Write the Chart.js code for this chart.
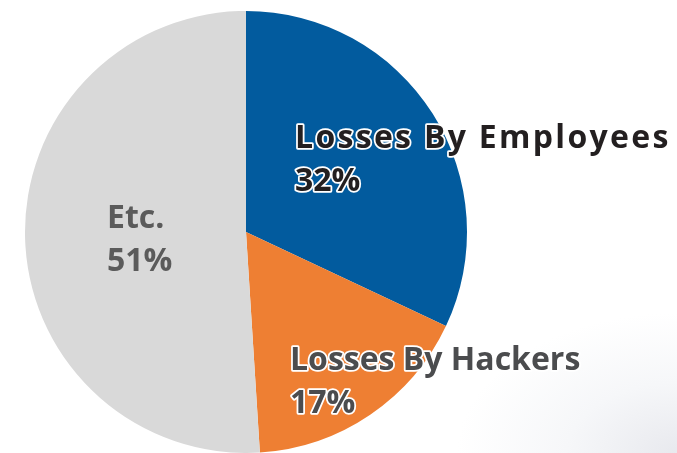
<!DOCTYPE html>
<html>
<head>
<meta charset="utf-8">
<script src="https://cdn.jsdelivr.net/npm/chart.js@4.4.0/dist/chart.umd.min.js"></script>
<style>
  html, body { margin: 0; padding: 0; }
  body {
    width: 677px; height: 453px; overflow: hidden;
    background: radial-gradient(ellipse 220px 140px at 677px 453px, #e8e9ee 0%, #f6f7f9 50%, #ffffff 100%);
  }
  #wrap { position: relative; width: 677px; height: 453px; }
</style>
</head>
<body>
<div id="wrap"><canvas id="chart" width="677" height="453"></canvas></div>
<script>
// 数据
const categories = ['Losses By Employees', 'Losses By Hackers', 'Etc.'];
const shares = [32, 17, 51];
const sliceColors = ['#025b9e', '#ee7f33', '#d9d9d9'];

// 标签样式（相对圆心的偏移）
const labelStyles = [
  { dx: 49, dy: -84, fill: '#231f20', stroke: '#ffffff', spacing: '2.3px' },
  { dx: 44, dy: 138, fill: '#4b4c4e', stroke: '#ffffff', spacing: '0px' },
  { dx: -139, dy: -4, fill: '#5b5b5b', stroke: null, spacing: '0px' }
];

const sliceLabels = {
  id: 'sliceLabels',
  afterDatasetsDraw(chart) {
    const ctx = chart.ctx;
    const arc = chart.getDatasetMeta(0).data[0];
    const cx = arc.x, cy = arc.y;
    ctx.save();
    ctx.font = 'bold 32px "Open Sans", "DejaVu Sans", sans-serif';
    ctx.textBaseline = 'alphabetic';
    ctx.textAlign = 'left';
    ctx.lineJoin = 'round';
    categories.forEach((name, i) => {
      const s = labelStyles[i];
      const lines = [name, shares[i] + '%'];
      lines.forEach((t, j) => {
        const x = cx + s.dx, y = cy + s.dy + j * 43;
        ctx.letterSpacing = j === 0 ? s.spacing : '0px';
        if (s.stroke) {
          ctx.strokeStyle = s.stroke;
          ctx.lineWidth = 3.5;
          ctx.strokeText(t, x, y);
        }
        ctx.fillStyle = s.fill;
        ctx.fillText(t, x, y);
      });
    });
    ctx.restore();
  }
};

new Chart(document.getElementById('chart'), {
  type: 'pie',
  data: {
    labels: categories,
    datasets: [{
      data: shares,
      backgroundColor: sliceColors,
      borderWidth: 0
    }]
  },
  options: {
    responsive: false,
    animation: false,
    layout: { padding: { left: 25, right: 210, top: 11, bottom: 0 } },
    plugins: {
      legend: { display: false },
      tooltip: { enabled: false }
    }
  },
  plugins: [sliceLabels]
});
</script>
</body>
</html>
